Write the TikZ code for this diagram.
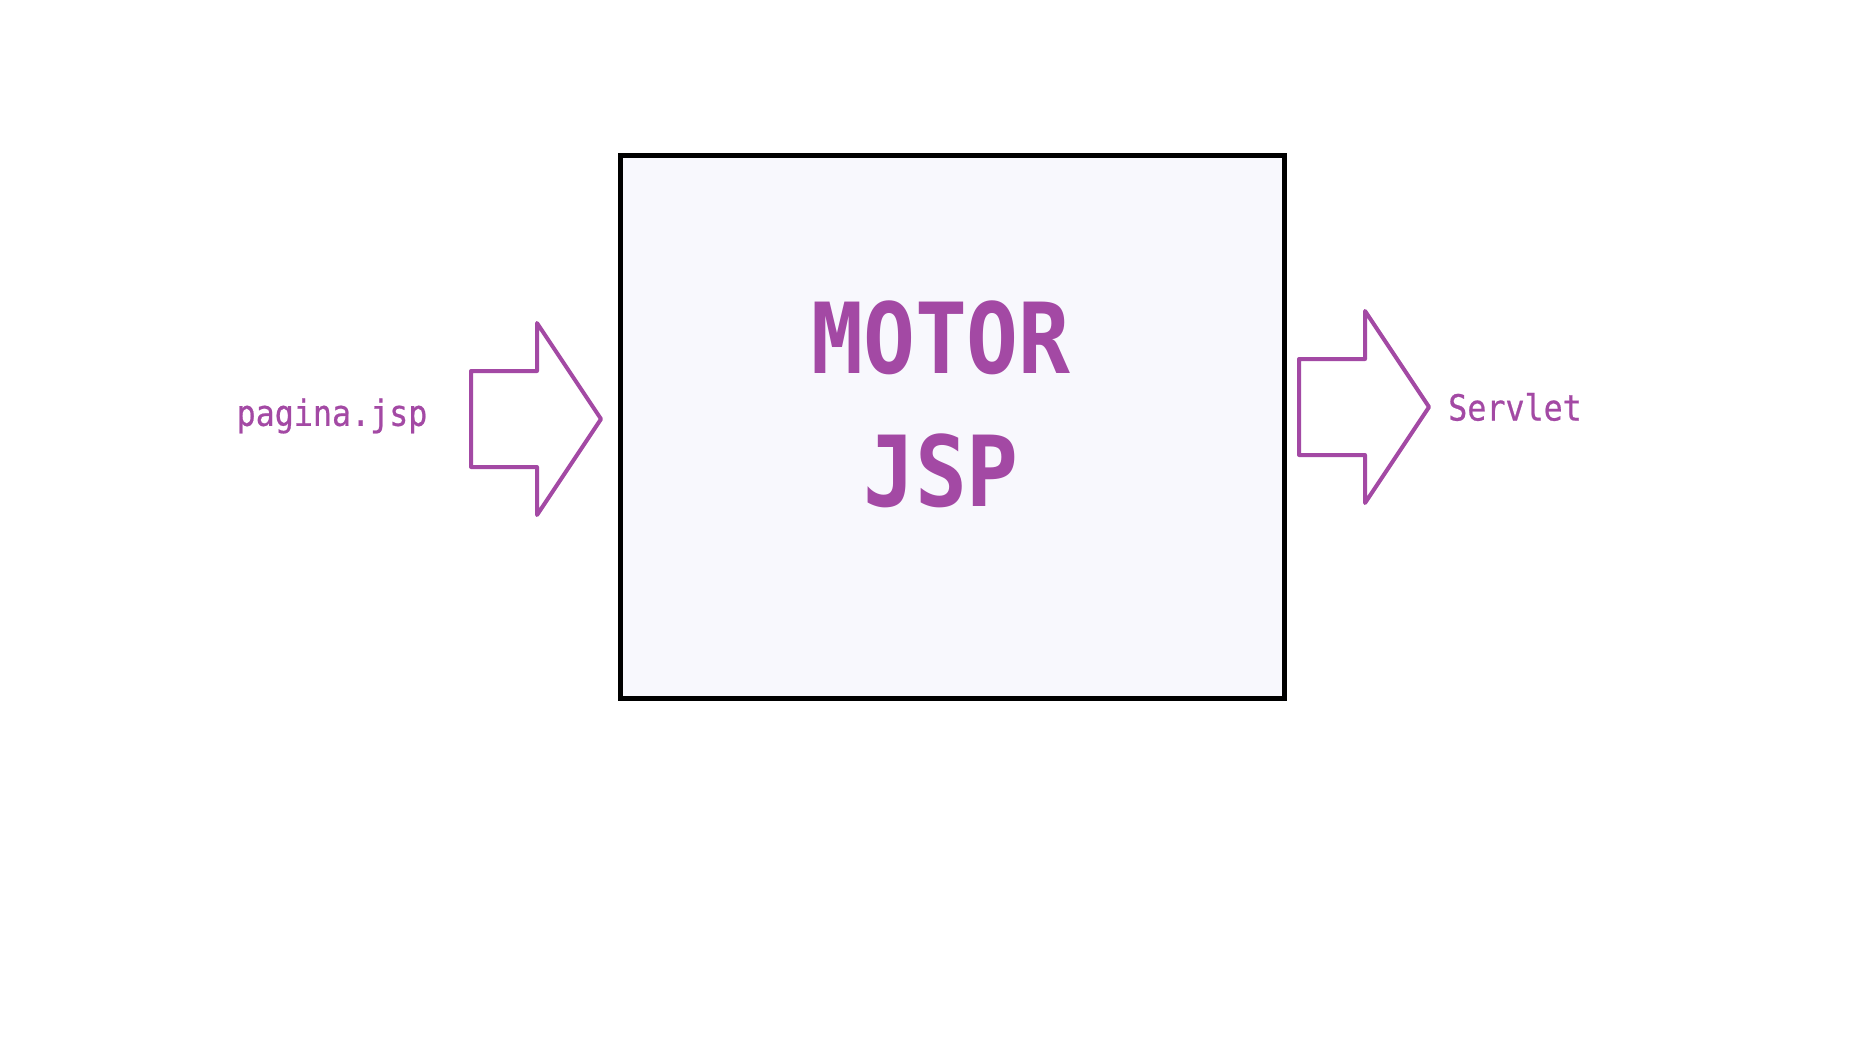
\documentclass[tikz,border=0pt]{standalone}
\usepackage{fontspec}
\usetikzlibrary{positioning}
\newfontfamily\monofont[FakeStretch=0.88,FakeBold=0.6]{DejaVu Sans Mono}
\newfontfamily\titlefont[FakeStretch=0.88]{DejaVu Sans Mono Bold}
\definecolor{morado}{HTML}{A349A4}
\definecolor{fondo}{HTML}{F8F8FD}

\begin{document}
\begin{tikzpicture}[x=0.5pt, y=-0.5pt,
    flecha/.style={morado, line width=2pt, line join=round},
    etiqueta/.style={morado, font=\monofont\fontsize{18}{22}\selectfont},
    titulo/.style={morado, font=\titlefont\fontsize{49}{58}\selectfont}]
        \useasboundingbox (0,0) rectangle (1871,1057);
        \draw[line width=2.5pt, fill=fondo] (620,155) rectangle (1284,698);
        \node[titulo] (motor) at (941,338) {MOTOR};
        \node[titulo] (jsp) at (941,471) {JSP};
        % flechas de entrada y salida
        \coordinate (entrada) at (471,419);
        \coordinate (salida) at (1299,407);
        \foreach \c in {entrada,salida}
          \draw[flecha] (\c) ++(0,-48) -- ++(66,0) -- ++(0,-48) -- ++(64,96)
            -- ++(-64,96) -- ++(0,-48) -- ++(-66,0) -- cycle;
        \node[etiqueta] (pagina) at (332,416) {pagina.jsp};
        \node[etiqueta] (servlet) at (1515,407) {Servlet};
      \end{tikzpicture}
\end{document}
